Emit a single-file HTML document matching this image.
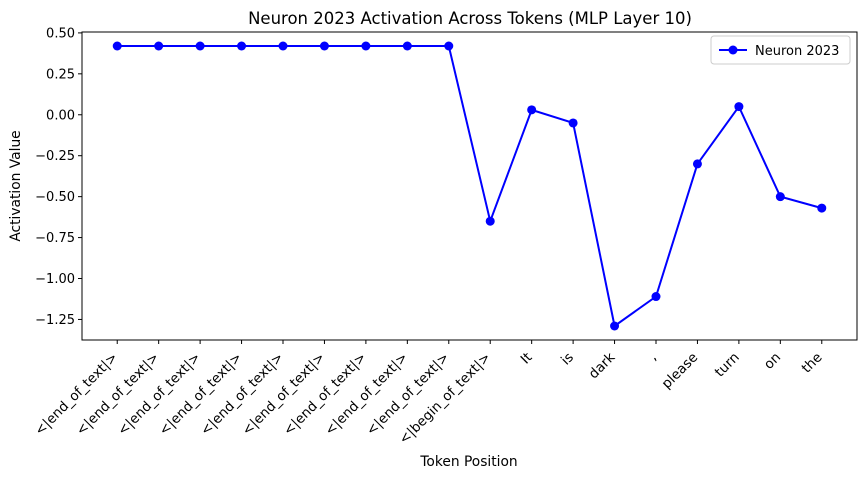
<!DOCTYPE html>
<html><head><meta charset="utf-8"><style>
body{margin:0;background:#fff;}
svg{display:block;font-family:"DejaVu Sans","Liberation Sans",sans-serif;}
</style></head><body>
<svg id="chart" width="866" height="479" viewBox="0 0 866 479">
<rect width="866" height="479" fill="#fff"/>
<text x="470" y="24" font-size="16.5" text-anchor="middle" fill="#000">Neuron 2023 Activation Across Tokens (MLP Layer 10)</text>
<g id="yticks"></g><g id="xticks"></g>
<g id="series"></g>
<rect x="82" y="32" width="775" height="308" fill="none" stroke="#000" stroke-width="1"/>
<text x="469" y="466" font-size="13.8" text-anchor="middle">Token Position</text>
<text transform="translate(20,186) rotate(-90)" font-size="13.8" text-anchor="middle">Activation Value</text>
<g>
<rect x="711" y="36" width="139" height="28" rx="3" fill="#fff" stroke="#ccc"/>
<line x1="719" y1="50" x2="747" y2="50" stroke="#0000ff" stroke-width="2"/>
<circle cx="733" cy="50" r="4.5" fill="#0000ff"/>
<text x="755" y="55" font-size="13">Neuron 2023</text>
</g>
</svg>
<script>
const tokens=["<|end_of_text|>","<|end_of_text|>","<|end_of_text|>","<|end_of_text|>","<|end_of_text|>","<|end_of_text|>","<|end_of_text|>","<|end_of_text|>","<|end_of_text|>","<|begin_of_text|>","It","is","dark",",","please","turn","on","the"];
const values=[0.42,0.42,0.42,0.42,0.42,0.42,0.42,0.42,0.42,-0.65,0.03,-0.05,-1.29,-1.11,-0.30,0.05,-0.50,-0.57];
const yTicks=[0.5,0.25,0,-0.25,-0.5,-0.75,-1,-1.25];
const yTickLabels=["0.50","0.25","0.00","−0.25","−0.50","−0.75","−1.00","−1.25"];
const NS="http://www.w3.org/2000/svg";
const L=82,R=857,T=32,B=340;
const n=tokens.length;
const xm=(n-1)*0.05;
const xs=i=>L+(i+xm)/((n-1)+2*xm)*(R-L);
const vmin=Math.min(...values),vmax=Math.max(...values),ym=(vmax-vmin)*0.05;
const y0=vmin-ym,y1=vmax+ym;
const ys=v=>B-(v-y0)/(y1-y0)*(B-T);
function mk(t,a,p){const e=document.createElementNS(NS,t);for(const k in a)e.setAttribute(k,a[k]);p.appendChild(e);return e;}
const yg=document.getElementById('yticks');
yTicks.forEach((v,i)=>{
 const y=ys(v);
 const l=mk('line',{x1:L-4,x2:L,y1:y,y2:y,stroke:'#000'},yg);
 
 
 const t=mk('text',{x:L-7,y:y+4.5,'font-size':13,'text-anchor':'end'},yg);
 t.textContent=yTickLabels[i];
 
 
});
const xg=document.getElementById('xticks');
tokens.forEach((tk,i)=>{
 const x=xs(i);
 const l=mk('line',{x1:x,x2:x,y1:B,y2:B+4,stroke:'#000'},xg);
 
 
 const t=mk('text',{transform:`translate(${x+1},${B+18}) rotate(-45)`,'font-size':13.5,'text-anchor':'end'},xg);
 t.textContent=tk;
 
 
});
const sg=document.getElementById('series');
const pl=mk('polyline',{points:values.map((v,i)=>xs(i)+','+ys(v)).join(' '),fill:'none',stroke:'#0000ff','stroke-width':2},sg);


values.forEach((v,i)=>{
 const c=mk('circle',{cx:xs(i),cy:ys(v),r:4.5,fill:'#0000ff'},sg);
 
 
});
</script>
</body></html>
